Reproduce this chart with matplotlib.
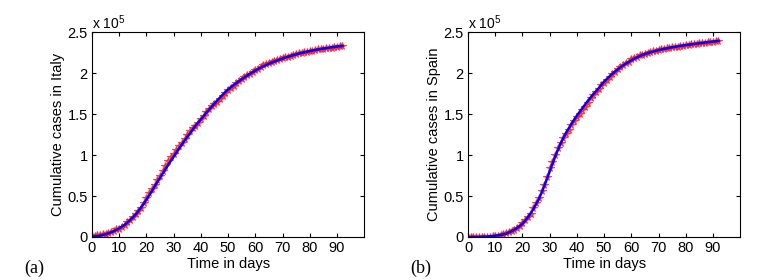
import numpy as np
import matplotlib
matplotlib.use('Agg')
import matplotlib.pyplot as plt

plt.rcParams['font.family'] = ['Liberation Sans', 'DejaVu Sans']
plt.rcParams['mathtext.default'] = 'regular'

# observed cumulative cases (thousands), day 0..92
days = list(range(93))
italy_obs = [1.1, 1.7, 2.0, 2.5, 3.1, 3.9, 4.6, 5.9, 7.4, 9.2, 10.1, 12.5, 15.1, 17.7,
             21.2, 24.7, 28.0, 31.5, 35.7, 41.0, 47.0, 53.6, 59.1, 63.9, 69.2, 74.4,
             80.6, 86.5, 92.5, 97.7, 101.7, 105.8, 110.6, 115.2, 119.8, 124.6, 128.9,
             132.5, 135.6, 139.4, 143.6, 147.6, 152.3, 156.4, 159.5, 162.5, 165.2,
             168.9, 172.4, 175.9, 179.0, 181.2, 184.0, 187.3, 190.0, 193.0, 195.4,
             197.7, 199.4, 201.5, 203.6, 205.5, 207.4, 209.3, 210.7, 211.9, 213.0,
             214.5, 215.9, 217.2, 218.3, 219.1, 219.8, 221.2, 222.1, 223.1, 223.9,
             224.8, 225.4, 225.9, 226.7, 227.4, 228.0, 228.7, 229.3, 229.9, 230.2,
             230.6, 231.1, 231.7, 232.2, 232.7, 233.0]
spain_obs = [0.03, 0.05, 0.08, 0.12, 0.17, 0.22, 0.26, 0.4, 0.5, 0.67, 1.07, 1.7, 2.3,
             3.1, 5.2, 6.4, 7.8, 9.0, 11.0, 13.9, 16.5, 20.4, 24.5, 28.6, 35.1, 41.0,
             47.5, 56.0, 64.0, 73.0, 84.0, 92.0, 100.0, 108.0, 115.0, 121.0, 126.0,
             131.0, 136.0, 141.0, 146.0, 150.0, 154.5, 159.0, 164.0, 169.0, 173.5,
             177.0, 181.0, 185.0, 188.0, 192.0, 195.5, 198.5, 201.5, 204.5, 207.0,
             209.5, 211.8, 214.0, 216.5, 218.5, 220.0, 221.5, 222.5, 223.5, 224.5,
             225.5, 226.3, 227.2, 228.0, 228.7, 229.4, 230.0, 230.7, 231.3, 231.8,
             232.3, 232.9, 233.4, 233.8, 234.3, 234.8, 235.3, 235.7, 236.2, 236.6,
             237.0, 237.4, 237.8, 238.3, 238.7, 239.6]

# fitted model curves (thousands), every 2 days
fit_days = list(range(0, 93, 2))
italy_fit = [0.3, 1.0, 2.4, 4.4, 7.1, 10.5, 14.9, 20.5, 27.2, 35.8, 45.5, 56.0, 67.0,
             77.5, 88.0, 98.0, 108.0, 117.5, 126.5, 135.5, 143.5, 151.5, 159.0, 166.5,
             173.5, 180.0, 185.3, 190.0, 194.7, 199.0, 203.0, 206.6, 209.8, 212.7,
             215.3, 217.7, 219.9, 221.9, 223.7, 225.3, 226.8, 228.1, 229.3, 230.4,
             231.4, 232.3, 233.1]
spain_fit = [0.0, 0.1, 0.2, 0.4, 0.8, 1.5, 2.5, 4.0, 7.0, 11.0, 16.0, 24.0, 34.0, 46.0,
             62.0, 80.0, 98.0, 114.0, 127.0, 138.0, 148.0, 157.0, 166.0, 174.0, 181.5,
             189.5, 196.0, 201.8, 207.0, 211.5, 215.5, 219.0, 222.0, 224.3, 226.2,
             228.0, 229.5, 230.8, 232.0, 233.1, 234.1, 235.0, 235.9, 236.8, 237.6,
             238.4, 239.2]

panels = [('Italy', italy_obs, italy_fit, 0.1196, '(a)', 0.032),
          ('Spain', spain_obs, spain_fit, 0.6086, '(b)', 0.533)]

fig = plt.figure(figsize=(7.69, 2.8), dpi=100)

for name, obs, fit, left, tag, tagx in panels:
    ax = fig.add_axes([left, 0.1536, 0.354, 0.732])
    ax.plot(days, np.array(obs) / 100, '*', color='#ff1f1f', markersize=5.5,
            markeredgewidth=0.8, alpha=0.8)
    ax.plot(fit_days, np.array(fit) / 100, 'b-', linewidth=1.8)
    ax.set_xlim(0, 100)
    ax.set_ylim(0, 2.5)
    ax.set_xticks(range(0, 91, 10))
    ax.set_yticks([0, 0.5, 1, 1.5, 2, 2.5])
    ax.set_yticklabels(['0', '0.5', '1', '1.5', '2', '2.5'])
    ax.tick_params(direction='in', top=True, right=True, labelsize=10.5,
                   length=3, pad=3)
    for s in ax.spines.values():
        s.set_linewidth(0.8)
    ax.set_xlabel('Time in days', fontsize=10.5, labelpad=1)
    ax.set_ylabel('Cumulative cases in ' + name, fontsize=10.5, labelpad=2)
    ax.text(0.0, 1.0, r'x 10$^5$', transform=ax.transAxes, fontsize=10,
            ha='left', va='bottom')
    fig.text(tagx, 0.025, tag, fontsize=13, family='Liberation Serif')

fig.savefig('out.png', dpi=100)
